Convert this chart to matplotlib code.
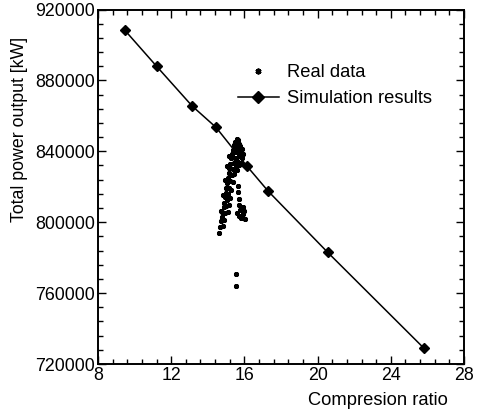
import matplotlib
matplotlib.use('Agg')
import matplotlib.pyplot as plt
from matplotlib.ticker import MultipleLocator

plt.rcParams['font.family'] = ['Liberation Sans', 'DejaVu Sans']

# simulation results (diamonds + line)
sim_ratio = [9.45, 11.2, 13.15, 14.45, 16.15, 17.3, 20.55, 25.8]
sim_power = [908500, 888000, 865500, 853500, 831500, 817500, 783000, 729000]

# real plant data (scatter)
real_ratio = [
    14.62, 14.68, 14.72, 14.78, 14.80, 14.86, 14.90, 14.94, 14.98, 15.02, 15.06,
    15.10, 15.14, 15.18, 15.22, 15.26, 15.30, 15.36, 15.42, 15.50, 15.58, 15.66,
    14.82, 14.88, 14.95, 15.00, 15.05, 15.12, 15.18, 15.24, 15.30, 15.36, 15.42,
    15.48, 15.55, 15.62, 15.70,
    15.10, 15.16, 15.22, 15.28, 15.36, 15.44, 15.52, 15.60, 15.68, 15.75, 15.80,
    15.72, 15.85,
    14.72, 14.85, 14.95, 15.05, 15.15,
    15.45, 15.55, 15.65, 15.75, 15.85, 15.90, 15.80, 15.60,
    15.66, 15.66, 15.68, 15.70,
    15.60, 15.75, 15.90, 16.00, 15.82, 16.02, 15.95, 15.70,
    15.55, 15.55,
]
real_power = [
    794000, 797500, 800500, 803000, 806000, 808500, 811000, 814000, 816500, 819500, 822000,
    825000, 827500, 830500, 833000, 836000, 838500, 841000, 843500, 845500, 847000, 846500,
    798000, 801500, 805000, 809000, 812500, 816000, 819500, 823000, 826500, 830000, 833500,
    836500, 839500, 842000, 844000,
    805500, 809500, 813500, 818000, 822500, 827000, 831000, 834500, 837500, 840000, 838000,
    832000, 836000,
    806500, 815500, 824000, 831500, 837500,
    840000, 843000, 840500, 843000, 841500, 838500, 833500, 829500,
    820500, 817000, 813000, 809500,
    805000, 807000, 804500, 806500, 802500, 802000, 808500, 803500,
    770800, 764200,
]

fig = plt.figure(figsize=(4.82, 4.12), dpi=100)
ax = fig.add_axes([0.2033, 0.1165, 0.7594, 0.8604])

ax.plot(real_ratio, real_power, linestyle='none', marker=(6, 2, 0), markersize=3.5,
        markeredgewidth=1.4, color='black', label='Real data')
ax.plot(sim_ratio, sim_power, color='black', linewidth=1.1, marker='D', markersize=5,
        label='Simulation results')

ax.set_xlim(8, 28)
ax.set_ylim(720000, 920000)
ax.xaxis.set_major_locator(MultipleLocator(4))
ax.xaxis.set_minor_locator(MultipleLocator(0.8))
ax.yaxis.set_major_locator(MultipleLocator(40000))
ax.yaxis.set_minor_locator(MultipleLocator(8000))
ax.tick_params(which='both', direction='in', top=True, right=True, labelsize=12.8,
               width=1.0, colors='black')
ax.tick_params(which='major', length=6, pad=2)
ax.tick_params(which='minor', length=3.5)
for s in ax.spines.values():
    s.set_linewidth(1.4)

ax.set_xlabel('Compresion ratio', fontsize=13.2)
ax.xaxis.set_label_coords(0.765, -0.08)
ax.set_ylabel('Total power output [kW]', fontsize=12.8)
ax.yaxis.set_label_coords(-0.19, 0.663)

ax.legend(loc='upper left', bbox_to_anchor=(0.383, 0.846), frameon=False, fontsize=13.2,
          handlelength=2.2, handletextpad=0.45, borderpad=0, borderaxespad=0,
          labelspacing=0.5, markerscale=1.2)

fig.savefig('out.png', dpi=100)
